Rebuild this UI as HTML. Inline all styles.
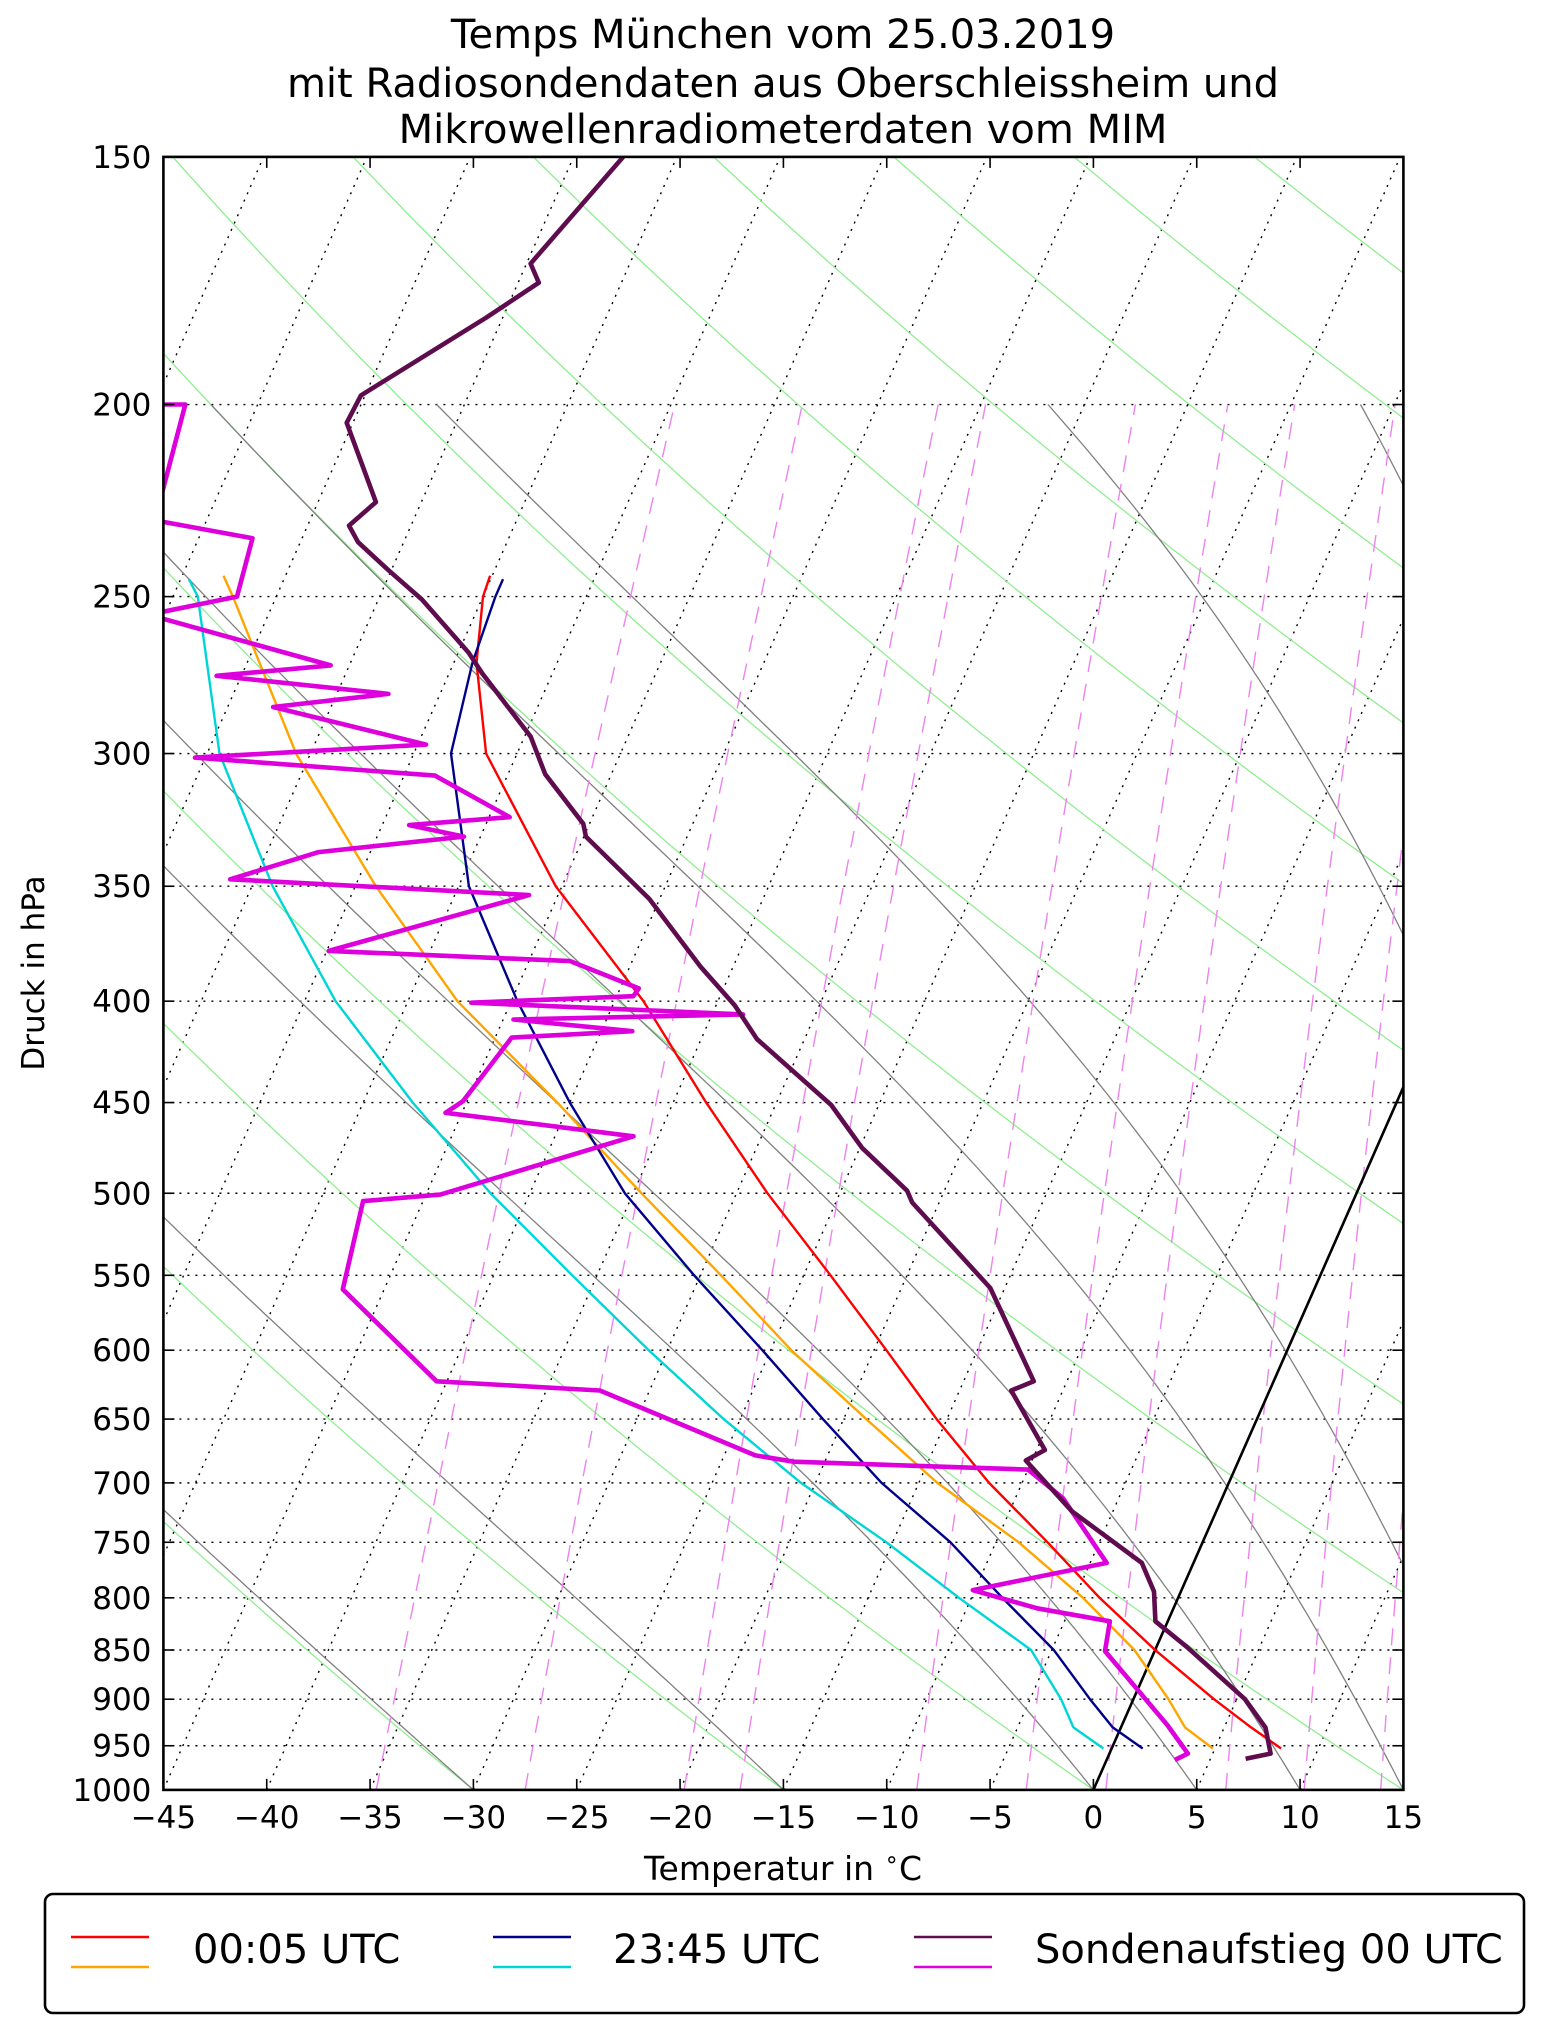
<!DOCTYPE html>
<html><head><meta charset="utf-8"><title>Temps München</title>
<style>
html,body{margin:0;padding:0;background:#fff;}
svg{display:block;font-family:"DejaVu Sans","Liberation Sans",sans-serif;}
</style></head>
<body>
<svg id="chart" width="1542" height="2032" viewBox="0 0 1542 2032" xmlns="http://www.w3.org/2000/svg">
<rect x="0" y="0" width="1542" height="2032" fill="#fff"/>
<g font-size="40" text-anchor="middle" fill="#000">
<text x="783" y="48">Temps München vom 25.03.2019</text>
<text x="783" y="97">mit Radiosondendaten aus Oberschleissheim und</text>
<text x="783" y="143">Mikrowellenradiometerdaten vom MIM</text>
</g>
<defs><clipPath id="plotclip"><rect x="163.4" y="156.9" width="1240" height="1633"/></clipPath></defs>
<g id="plot" clip-path="url(#plotclip)"></g>
<g id="axes"></g>
<text x="783" y="1880" font-size="33" text-anchor="middle">Temperatur in <tspan font-size="23" dy="-13">∘</tspan><tspan dy="13">C</tspan></text>
<text transform="translate(44,973) rotate(-90)" font-size="31" text-anchor="middle">Druck in hPa</text>
<g>
<rect x="45" y="1894" width="1479" height="119" rx="8" ry="8" fill="#fff" stroke="#000" stroke-width="2.6"/>
<line x1="71" y1="1937" x2="149" y2="1937" stroke="#ff0000" stroke-width="2.6"/>
<line x1="71" y1="1967" x2="149" y2="1967" stroke="#ffa500" stroke-width="2.6"/>
<text x="193" y="1963" font-size="40">00:05 UTC</text>
<line x1="493" y1="1937" x2="571" y2="1937" stroke="#00008b" stroke-width="2.6"/>
<line x1="493" y1="1967" x2="571" y2="1967" stroke="#00d5d5" stroke-width="2.6"/>
<text x="613" y="1963" font-size="40">23:45 UTC</text>
<line x1="914" y1="1937" x2="992" y2="1937" stroke="#5e0c4e" stroke-width="2.6"/>
<line x1="914" y1="1967" x2="992" y2="1967" stroke="#dd00dd" stroke-width="2.6"/>
<text x="1035" y="1963" font-size="40">Sondenaufstieg 00 UTC</text>
</g>
</svg>
<script>
// ---- data ----
const pressureTicks = [150,200,250,300,350,400,450,500,550,600,650,700,750,800,850,900,950,1000];
const tempTicks = [-45,-40,-35,-30,-25,-20,-15,-10,-5,0,5,10,15];
const mwr0005P = [244,250,270,300,350,400,450,500,550,600,650,700,750,800,850,900,930,953];
const mwr0005T = [-55.1,-55.0,-53.9,-51.5,-45.3,-38.6,-33.4,-28.5,-23.7,-19.4,-15.5,-11.6,-7.5,-3.8,0.0,3.9,6.3,8.2];
const mwr0005DP = [244,250,300,350,400,450,500,550,600,650,700,750,800,850,900,930,953];
const mwr0005Td = [-68.0,-67.1,-60.7,-54.0,-47.6,-40.6,-34.6,-29.0,-24.0,-18.9,-14.1,-8.9,-4.6,-1.0,1.7,3.1,4.9];
const mwr2345P = [245,250,270,300,350,400,450,500,550,600,650,700,750,800,850,900,930,953];
const mwr2345T = [-54.4,-54.4,-54.1,-53.2,-49.5,-44.7,-40.0,-35.4,-30.3,-25.4,-21.0,-16.8,-12.2,-8.5,-4.9,-2.1,-0.4,1.5];
const mwr2345DP = [245,250,300,350,400,450,500,550,600,650,700,750,800,850,900,930,953];
const mwr2345Td = [-69.6,-68.8,-64.4,-59.0,-53.5,-47.6,-41.9,-36.2,-30.9,-25.8,-20.7,-15.3,-10.6,-6.0,-3.5,-2.3,-0.4];
const soundP = [150,169.8,173.6,180.8,197.9,204.3,224,230.2,234.7,242.6,250.8,266.8,273.3,294.2,307.3,325.5,330.4,355.2,384.1,401.9,418,451.3,474.3,498.5,505.4,558.2,622.1,628.8,673.8,682,723.3,768.2,794.1,822.1,847.3,900,930.2,958.7,964.5];
const soundT = [-57.6,-59.8,-59.0,-60.8,-65.2,-65.3,-62.2,-63.0,-62.2,-60.1,-57.9,-54.5,-53.4,-49.7,-48.2,-45.3,-44.9,-40.5,-36.6,-34.1,-32.3,-27.3,-24.9,-21.8,-21.3,-15.7,-11.6,-12.5,-9.6,-10.3,-7.0,-2.5,-1.3,-0.6,1.5,5.4,7.0,7.8,6.7];
const soundDP = [200,200,228.8,233.6,250,255.3,270.8,274.1,279.9,284.2,296.9,301.4,307.8,323,326,330.4,336.4,347.2,353.6,377.3,381.8,394.1,397.7,400.7,406.2,408.6,414.2,417.3,449.3,455.4,468,500.8,504.6,559,622.1,628.8,678,683,689.3,712.5,768.2,792.9,809.8,822.1,851.1,927.5,958.7,965.9];
const soundTd = [-76.2,-73.5,-72.5,-67.4,-66.9,-70.8,-60.9,-66.2,-57.5,-62.8,-54.6,-65.5,-53.5,-49.0,-53.7,-50.8,-57.5,-61.2,-46.4,-54.9,-43.0,-39.1,-39.2,-46.9,-33.5,-44.5,-38.5,-44.2,-45.2,-45.8,-36.2,-44.3,-47.9,-47.0,-40.5,-32.4,-23.5,-21.5,-10.0,-7.7,-4.2,-10.1,-6.6,-2.8,-2.4,2.2,3.8,3.3];
const dryAdiabatT0 = [-120,-105,-90,-75,-60,-45,-30,-15,0,15,30,45,60,75,90,105,120,135,150];
const moistAdiabatT0 = [-30,-15,0,5,10,15,20,30,35];
const mixingLineTd1000 = [-34.7,-27.5,-19.8,-17.1,-8.55,-3.25,0.6,6.4,10.2,13.9];

// ---- axes ----
const L=163.4, R=1403.4, TOP=156.9, B=1789.9, SKEW=0.441;
const LNR=Math.log(1000/150);
function yOf(p){return B-(B-TOP)*Math.log(1000/p)/LNR;}
function xOf(T,p){return L+(T+45)*(R-L)/60+SKEW*(B-yOf(p));}
const NS='http://www.w3.org/2000/svg';
const plot=document.getElementById('plot');
const axes=document.getElementById('axes');
function mk(tag,parent){const e=document.createElementNS(NS,tag);parent.appendChild(e);return e;}
function poly(pts,parent,stroke,w,dash){
  const e=mk('polyline',parent);
  e.setAttribute('points',pts.map(q=>xOf(q[0],q[1]).toFixed(1)+','+yOf(q[1]).toFixed(1)).join(' '));
  e.setAttribute('fill','none');e.setAttribute('stroke',stroke);e.setAttribute('stroke-width',w);
  e.setAttribute('stroke-linejoin','round');
  if(dash)e.setAttribute('stroke-dasharray',dash);
  return e;
}
// horizontal grid
pressureTicks.forEach(p=>{
  if(p===150||p===1000)return;
  const l=mk('line',plot);
  
  
  l.setAttribute('x1',L);l.setAttribute('x2',R);l.setAttribute('y1',yOf(p));l.setAttribute('y2',yOf(p));
  l.setAttribute('stroke','#000');l.setAttribute('stroke-width','1.4');l.setAttribute('stroke-dasharray','2,6');
});
// isotherms
for(let T=-130;T<=15;T+=5){
  const e=poly([[T,1000],[T,150]],plot,'#000','1.4','2,6');
  
  
}
// dry adiabats
dryAdiabatT0.forEach(t0=>{
  const th=t0+273.15;const pts=[];
  for(let p=1000;p>=150;p-=10)pts.push([th*Math.pow(p/1000,0.2857)-273.15,p]);
  const e=poly(pts,plot,'#90ee90','1.3');
  
  
});
// moist adiabats
function dTdp(T,p){const es=6.112*Math.exp(17.67*(T-273.15)/(T-29.65));const rs=0.622*es/(p-es);
  return (287.04*T+2.501e6*rs)/(p*(1005.7+2.501e6*2.501e6*rs*0.622/(287.04*T*T)));}
moistAdiabatT0.forEach(t0=>{
  let T=t0+273.15;const pts=[];
  for(let p=1000;p>=200;p-=5){pts.push([T-273.15,p]);const k1=dTdp(T,p);const k2=dTdp(T-2.5*k1,p-2.5);T-=5*k2;}
  const e=poly(pts,plot,'#808080','1.3');
  
  
});
// mixing ratio lines
mixingLineTd1000.forEach(td=>{
  const e0=6.112*Math.exp(17.67*td/(td+243.5));const pts=[];
  for(let p=1000;p>=200;p-=20){const e=e0*p/1000;const g=Math.log(e/6.112);pts.push([243.5*g/(17.67-g),p]);}
  const el=poly(pts,plot,'#ee82ee','1.4','17,12');
  
  
});
// 0 degree isotherm
const zero=poly([[0,1000],[0,150]],plot,'#000','2.6');


// data series
function series(P,T,color,w,name){const e=poly(P.map((p,i)=>[T[i],p]),plot,color,w);}
series(mwr0005DP,mwr0005Td,'#ffa500','2.4','mwr-0005-dewpoint-line');
series(mwr0005P,mwr0005T,'#ff0000','2.4','mwr-0005-temperature-line');
series(mwr2345DP,mwr2345Td,'#00d5d5','2.4','mwr-2345-dewpoint-line');
series(mwr2345P,mwr2345T,'#00008b','2.4','mwr-2345-temperature-line');
series(soundDP,soundTd,'#dd00dd','4.6','sounding-dewpoint-line');
series(soundP,soundT,'#5e0c4e','4.6','sounding-temperature-line');
// frame
const fr=mk('rect',axes);


fr.setAttribute('x',L);fr.setAttribute('y',TOP);fr.setAttribute('width',R-L);fr.setAttribute('height',B-TOP);
fr.setAttribute('fill','none');fr.setAttribute('stroke','#000');fr.setAttribute('stroke-width','2.6');
// y ticks
pressureTicks.forEach(p=>{
  const y=yOf(p);
  [[L,L+11],[R,R-11]].forEach(s=>{const t=mk('line',axes);
    
    
    t.setAttribute('x1',s[0]);t.setAttribute('x2',s[1]);t.setAttribute('y1',y);t.setAttribute('y2',y);t.setAttribute('stroke','#000');t.setAttribute('stroke-width','1.6');});
  const tx=mk('text',axes);
  
  
  tx.setAttribute('x',L-12);tx.setAttribute('y',y+11);tx.setAttribute('text-anchor','end');tx.setAttribute('font-size','31');
  tx.textContent=String(p);
});
// x ticks
tempTicks.forEach(T=>{
  const x=L+(T+45)*(R-L)/60;
  [[B,B-11],[TOP,TOP+11]].forEach(s=>{const t=mk('line',axes);
    
    
    t.setAttribute('x1',x);t.setAttribute('x2',x);t.setAttribute('y1',s[0]);t.setAttribute('y2',s[1]);t.setAttribute('stroke','#000');t.setAttribute('stroke-width','1.6');});
  const tx=mk('text',axes);
  
  
  tx.setAttribute('x',x);tx.setAttribute('y',B+38);tx.setAttribute('text-anchor','middle');tx.setAttribute('font-size','31');
  tx.textContent=(T<0?'\u2212':'')+Math.abs(T);
});
</script>
</body></html>
